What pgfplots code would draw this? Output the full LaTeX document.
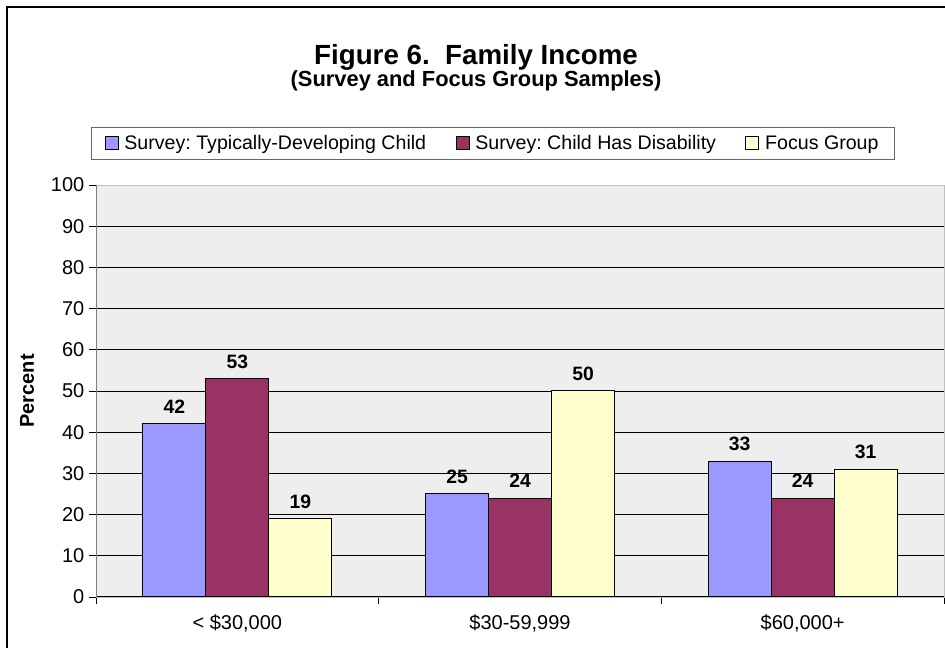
\documentclass[border=0pt]{standalone}
\usepackage{fontspec}
\setmainfont{Liberation Sans}
\usepackage{pgfplots}
\pgfplotsset{compat=1.18}
\definecolor{cblue}{HTML}{9999FF}
\definecolor{cred}{HTML}{993366}
\definecolor{cyel}{HTML}{FFFFCC}
\definecolor{plotbg}{HTML}{EEEEEE}
\frenchspacing
\begin{document}
\begin{tikzpicture}
\useasboundingbox (0,0) rectangle (708.75pt,486pt);
\clip (0,0) rectangle (708.75pt,486pt);
\begin{axis}[
  at={(72pt,38.25pt)}, anchor=south west,
  scale only axis, width=636pt, height=309pt,
  ybar=0pt, bar width=47.25pt,
  xmin=-0.5, xmax=2.5, ymin=0, ymax=100,
  ytick={0,10,...,100},
  xtick={-0.5,0.5,1.5,2.5}, xticklabels={},
  extra x ticks={0,1,2},
  extra x tick labels={{< \$30,000},{\$30-59,999},{\$60,000+}},
  extra x tick style={major tick length=0pt, tick label style={yshift=-10pt}},
  extra y ticks={10,20,...,90}, extra y tick labels={},
  extra y tick style={grid=major, major tick length=0pt},
  major grid style={black, line width=0.6pt},
  tick align=outside, major tick length=5.25pt,
  tick style={black, line width=0.6pt},
  xtick pos=bottom, ytick pos=left,
  axis line style={draw=gray!50, line width=0.6pt},
  axis background/.style={fill=plotbg},
  tick label style={font=\fontsize{15}{18}\selectfont},
  /pgf/number format/assume math mode=true,
  ylabel={\bfseries Percent},
  every axis y label/.style={at={(axis description cs:-0.0814,0.5)}, rotate=90, anchor=center, font=\fontsize{15}{18}\selectfont},
  nodes near coords,
  every node near coord/.append style={font=\bfseries\fontsize{14.5}{17}\selectfont, black, yshift=4pt},
  legend columns=3,
  legend style={at={(axis description cs:-0.0059,1.1408)}, anchor=north west,
    draw=black!60, fill=white, inner xsep=10pt, inner ysep=4pt,
    font=\fontsize{14.7}{18}\selectfont,
    /tikz/every even column/.append style={column sep=20pt},
    cells={anchor=west, inner xsep=2pt}},
  legend image code/.code={\path[draw=none,fill=none] (0pt,0pt) (12.5pt,0pt);\draw[#1] (0pt,-4.875pt) rectangle (9.75pt,4.875pt);},
]
\addplot[fill=cblue, draw=black, line width=0.75pt] coordinates {(0,42) (1,25) (2,33)};
\addplot[fill=cred, draw=black, line width=0.75pt] coordinates {(0,53) (1,24) (2,24)};
\addplot[fill=cyel, draw=black, line width=0.75pt] coordinates {(0,19) (1,50) (2,31)};
\legend{Survey: Typically-Developing Child, Survey: Child Has Disability, Focus Group}
\draw[black, line width=0.75pt] (axis cs:-0.5,0) -- (axis cs:2.5,0);
\draw[gray, line width=0.75pt] (axis cs:-0.5,0) -- (axis cs:-0.5,100);
\end{axis}
\draw[line width=1.5pt] (5.25pt,-5pt) -- (5.25pt,480.75pt) -- (715pt,480.75pt);
\node[anchor=base, font=\bfseries\fontsize{20.8}{24}\selectfont] at (357pt,437.25pt) {Figure 6.\ \ Family Income};
\node[anchor=base, font=\bfseries\fontsize{16.4}{19}\selectfont] at (357pt,420.75pt) {(Survey and Focus Group Samples)};
\end{tikzpicture}
\end{document}
